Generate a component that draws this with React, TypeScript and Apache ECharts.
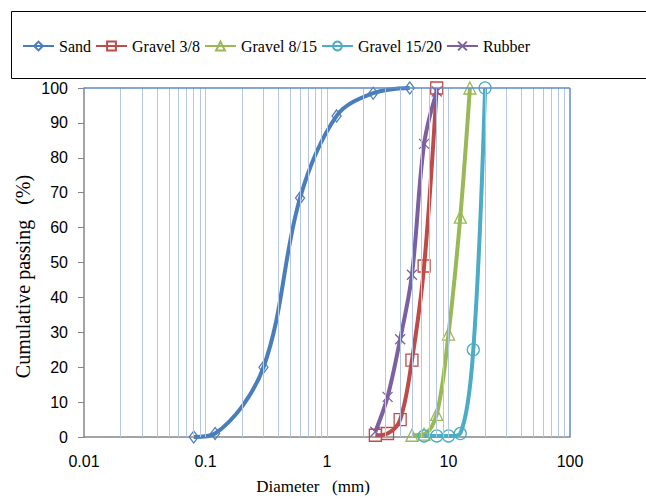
import React, { useEffect, useRef } from "react";
import * as echarts from "echarts";

const seriesNames = ["Sand", "Gravel 3/8", "Gravel 8/15", "Gravel 15/20", "Rubber"];
const sand: [number, number][] = [[0.08, 0], [0.12, 1], [0.3, 20], [0.6, 68.5], [1.2, 92], [2.4, 98.5], [4.8, 100]];
const gravel38: [number, number][] = [[2.5, 0.5], [3.15, 1], [4, 5], [5, 22], [6.3, 49], [8, 100]];
const gravel815: [number, number][] = [[5, 0.5], [6.3, 0.8], [8, 6.5], [10, 29.5], [12.5, 63], [15, 100]];
const gravel1520: [number, number][] = [[6.3, 0.3], [8, 0.3], [10, 0.3], [12.5, 1], [16, 25], [20, 100]];
const rubber: [number, number][] = [[2.5, 1.5], [3.15, 11.5], [4, 28], [5, 46.5], [6.3, 84], [8, 99]];
const gridXValues = [
  0.02, 0.03, 0.04, 0.05, 0.06, 0.07, 0.08, 0.09, 0.1,
  0.2, 0.3, 0.4, 0.5, 0.6, 0.7, 0.8, 0.9, 1,
  2, 3, 4, 5, 6, 7, 8, 9, 10,
  20, 30, 40, 50, 60, 70, 80, 90,
];
const colors = ["#4A7EBB", "#BE4B48", "#98B954", "#4BACC6", "#7D60A0"];
const symbols = ["diamond", "rect", "triangle", "circle", "path://M0 0L10 10M10 0L0 10"];
const symbolSizes: any[] = [[9, 12], 12, 12, 12, 10];

export default function App() {
  const ref = useRef<HTMLDivElement>(null);
  useEffect(() => {
    const chart = echarts.init(ref.current!, null, { renderer: "svg" });
    const datasets = [sand, gravel38, gravel815, gravel1520, rubber];
    const serif = "'Liberation Serif', 'Times New Roman', serif";
    const sans = "'Liberation Sans', Arial, sans-serif";
    const series: any[] = [
      {
        name: "grid",
        type: "line",
        data: [],
        z: 1,
        silent: true,
        markLine: {
          silent: true,
          symbol: ["none", "none"],
          label: { show: false },
          animation: false,
          data: [
            ...gridXValues.map((v) => ({ xAxis: v, lineStyle: { color: "#B4C7E8", width: 1, type: "solid" } })),
            { xAxis: 100, lineStyle: { color: "#5F8ACB", width: 1.5, type: "solid" } },
            { yAxis: 100, lineStyle: { color: "#5F8ACB", width: 1.5, type: "solid" } },
          ],
        },
      },
    ];
    datasets.forEach((d, i) => {
      series.push({
        name: seriesNames[i],
        type: "line",
        data: d,
        z: 3,
        smooth: 0.35,
        symbol: symbols[i],
        symbolSize: symbolSizes[i],
        showAllSymbol: true,
        lineStyle: { color: colors[i], width: 4 },
        itemStyle: { color: "rgba(255,255,255,0)", borderColor: colors[i], borderWidth: 1.3 },
        emphasis: { disabled: true },
      });
    });
    chart.setOption({
      animation: false,
      backgroundColor: "#ffffff",
      graphic: [
        {
          type: "rect",
          shape: { x: 11.5, y: 11.5, width: 660, height: 67 },
          style: { fill: "none", stroke: "#000", lineWidth: 1 },
          z: 0,
        },
      ],
      legend: {
        data: seriesNames,
        left: 17,
        top: 33,
        itemWidth: 31,
        itemHeight: 11,
        itemGap: 4,
        textStyle: { fontFamily: serif, fontSize: 16, color: "#000" },
      },
      grid: { left: 84, right: 76, top: 88, bottom: 60 },
      xAxis: {
        type: "log",
        logBase: 10,
        min: 0.01,
        max: 100,
        name: "Diameter   (mm)",
        nameLocation: "middle",
        nameGap: 41,
        nameMoveOverlap: false,
        nameTextStyle: { fontFamily: serif, fontSize: 17, color: "#000", padding: [0, 28, 0, 0] },
        axisLine: { show: true, onZero: false, lineStyle: { color: "#868686", width: 1.5 } },
        axisTick: { show: false },
        splitLine: { show: false },
        axisLabel: {
          fontFamily: sans,
          fontSize: 16,
          color: "#000",
          margin: 16,
          formatter: (v: number) => String(v),
        },
      },
      yAxis: {
        type: "value",
        min: 0,
        max: 100,
        interval: 10,
        name: "Cumulative passing   (%)",
        nameLocation: "middle",
        nameGap: 51,
        nameMoveOverlap: false,
        nameRotate: 90,
        nameTextStyle: { fontFamily: serif, fontSize: 20, color: "#000", padding: [0, 28, 0, 0] },
        axisLine: { show: true, lineStyle: { color: "#868686", width: 1.5 } },
        axisTick: { show: true, inside: false, length: 6, lineStyle: { color: "#868686" } },
        splitLine: { show: false },
        axisLabel: { fontFamily: sans, fontSize: 16, color: "#000", margin: 16 },
      },
      series,
    });
    return () => chart.dispose();
  }, []);
  return <div ref={ref} style={{ width: 646, height: 500, position: "absolute", left: 0, top: 0 }} />;
}
